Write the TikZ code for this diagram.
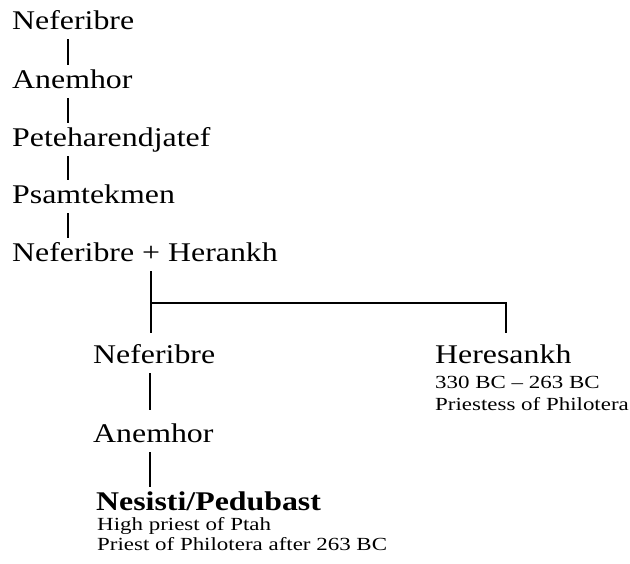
\documentclass[tikz,border=0pt]{standalone}
\usepackage{fontspec}
\setmainfont[FakeStretch=1.18]{Liberation Serif}
\newfontfamily\smallfam[FakeStretch=1.24]{Liberation Serif}
\begin{document}
\begin{tikzpicture}[x=1pt,y=-1pt,
  pname/.style={anchor=base west, inner xsep=0pt, inner ysep=5pt, text height=18pt, text depth=5pt, font=\fontsize{27}{30}\selectfont},
  bpname/.style={pname, font=\fontsize{27}{30}\selectfont\bfseries},
  pinfo/.style={anchor=base west, inner sep=0pt, font=\smallfam\fontsize{18.5}{21}\selectfont},
  link/.style={line width=1.3pt}]
\useasboundingbox[fill=white] (0,0) rectangle (630,563);
% main line
\node[pname] (n1) at (12,29) {Neferibre};
\node[pname] (n2) at (12,88) {Anemhor};
\node[pname] (n3) at (12,146) {Peteharendjatef};
\node[pname] (n4) at (12,203) {Psamtekmen};
\node[pname] (n5) at (12,261) {Neferibre + Herankh};
\coordinate (c1) at (68,0);
\draw[link] (n1.south -| c1) -- (n2.north -| c1);
\draw[link] (n2.south -| c1) -- (n3.north -| c1);
\draw[link] (n3.south -| c1) -- (n4.north -| c1);
\draw[link] (n4.south -| c1) -- (n5.north -| c1);
% children
\node[pname] (nb) at (93,363) {Neferibre};
\node[pname] (na) at (93,442) {Anemhor};
\node[bpname] (ns) at (96,510) {Nesisti/Pedubast};
\node[pinfo] (ns1) at (97,530) {High priest of Ptah};
\node[pinfo] (ns2) at (97,550) {Priest of Philotera after 263 BC};
\node[pname] (hr) at (435,363) {Heresankh};
\node[pinfo] (hr1) at (435,388) {330 BC – 263 BC};
\node[pinfo] (hr2) at (435,410) {Priestess of Philotera};
\coordinate (jl) at (151,303);
\coordinate (jr) at (506,303);
\draw[link, shorten >=7pt] (n5.south -| jl) -- (nb.north -| jl);
\draw[link, shorten >=7pt] (jl) -- (jr) -- (hr.north -| jr);
\coordinate (c2) at (150,0);
\draw[link, shorten >=9pt] (nb.south -| c2) -- (na.north -| c2);
\draw[link] (na.south -| c2) -- (ns.north -| c2);
\end{tikzpicture}
\end{document}
